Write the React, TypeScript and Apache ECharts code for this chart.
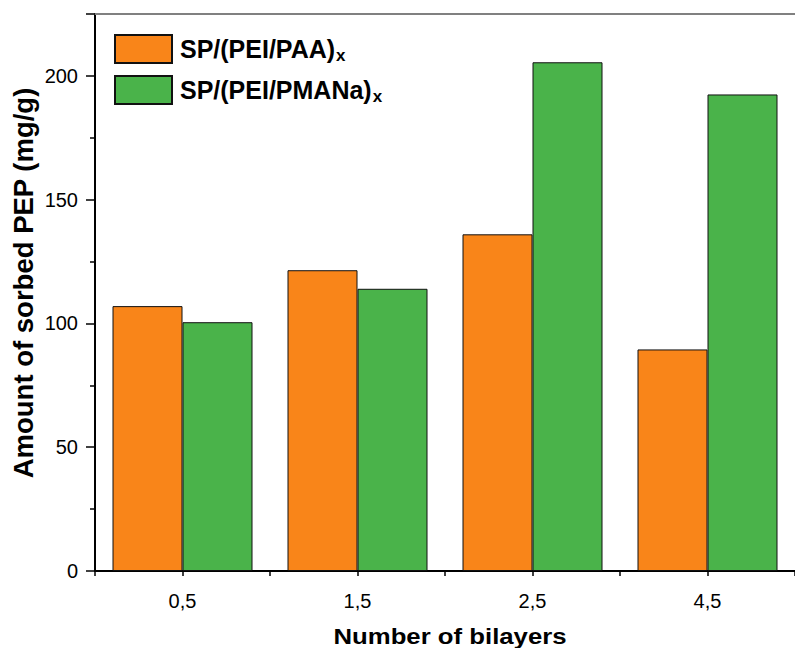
import React, { useEffect, useRef } from "react";
import * as echarts from "echarts";

const categories = ["0,5", "1,5", "2,5", "4,5"];
const paaValues = [107, 121.5, 136, 89.5];
const pmanaValues = [100.5, 114, 205.5, 192.5];
const seriesNames = ["SP/(PEI/PAA)", "SP/(PEI/PMANa)"];
const yTitle = "Amount of sorbed PEP (mg/g)";
const xTitle = "Number of bilayers";

const FONT = "'Liberation Sans', Arial, sans-serif";

export default function App() {
  const ref = useRef<HTMLDivElement>(null);
  useEffect(() => {
    if (!ref.current) return;
    const chart = echarts.init(ref.current, undefined, { renderer: "svg" });
    const tickLabel = { fontFamily: FONT, fontSize: 20, color: "#000" };
    chart.setOption({
      animation: false,
      backgroundColor: "#fff",
      grid: { left: 95, top: 14, right: -10, bottom: 77 },
      legend: {
        orient: "vertical",
        left: 109,
        top: 29,
        itemWidth: 57,
        itemHeight: 28,
        itemGap: 11,
        icon: "rect",
        selectedMode: false,
        data: seriesNames,
        formatter: (name: string) => `{a|${name}}{s|x}`,
        textStyle: {
          rich: {
            a: { fontFamily: FONT, fontSize: 25, fontWeight: "bold", color: "#000", lineHeight: 28, padding: [0, 0, 0, 3] },
            s: { fontFamily: FONT, fontSize: 17, fontWeight: "bold", color: "#000", padding: [13, 0, 0, 1], verticalAlign: "bottom" },
          },
        },
      },
      xAxis: [
        {
          type: "category",
          data: categories,
          axisLine: { lineStyle: { color: "#000", width: 2 } },
          axisTick: { show: true, length: 5, lineStyle: { color: "#000", width: 1.5 } },
          axisLabel: { show: false },
          splitLine: { show: false },
        },
        {
          type: "category",
          data: categories,
          position: "bottom",
          axisLine: { show: false },
          axisTick: { show: true, alignWithLabel: true, length: 5, lineStyle: { color: "#000", width: 1.5 } },
          axisLabel: { ...tickLabel, margin: 20 },
          splitLine: { show: false },
        },
        {
          type: "category",
          data: categories,
          position: "top",
          axisLine: { lineStyle: { color: "#808080", width: 2 } },
          axisTick: { show: false },
          axisLabel: { show: false },
        },
      ],
      yAxis: {
        type: "value",
        min: 0,
        max: 225,
        interval: 50,
        axisLine: { show: true, lineStyle: { color: "#000", width: 2 } },
        axisTick: { show: true, length: 9, lineStyle: { color: "#000", width: 1.5 } },
        minorTick: { show: true, splitNumber: 2, length: 5, lineStyle: { color: "#000", width: 1.5 } },
        axisLabel: {
          ...tickLabel,
          margin: 17,
          showMaxLabel: false,
          formatter: (v: number) => (v % 50 === 0 ? String(v) : ""),
        },
        splitLine: { show: false },
      },
      series: [
        {
          name: seriesNames[0],
          type: "bar",
          xAxisIndex: 0,
          data: paaValues,
          barGap: "0%",
          barCategoryGap: "20%",
          itemStyle: { color: "#F98519", borderColor: "#111", borderWidth: 1 },
        },
        {
          name: seriesNames[1],
          type: "bar",
          xAxisIndex: 0,
          data: pmanaValues,
          barGap: "0%",
          barCategoryGap: "20%",
          itemStyle: { color: "#4AB34A", borderColor: "#111", borderWidth: 1 },
        },
      ],
      graphic: [
        {
          type: "text",
          x: 23,
          y: 283,
          rotation: Math.PI / 2,
          style: {
            text: yTitle,
            fontFamily: FONT,
            fontSize: 27.5,
            fontWeight: "bold",
            fill: "#000",
            align: "center",
            verticalAlign: "middle",
          },
        },
        {
          type: "text",
          x: 450,
          y: 636,
          scaleX: 1.17,
          style: {
            text: xTitle,
            fontFamily: FONT,
            fontSize: 22,
            fontWeight: "bold",
            fill: "#000",
            align: "center",
            verticalAlign: "middle",
          },
        },
      ],
    });
    return () => chart.dispose();
  }, []);
  return (
    <div
      ref={ref}
      style={{ position: "absolute", left: 0, top: 0, width: 795, height: 648 }}
    />
  );
}
